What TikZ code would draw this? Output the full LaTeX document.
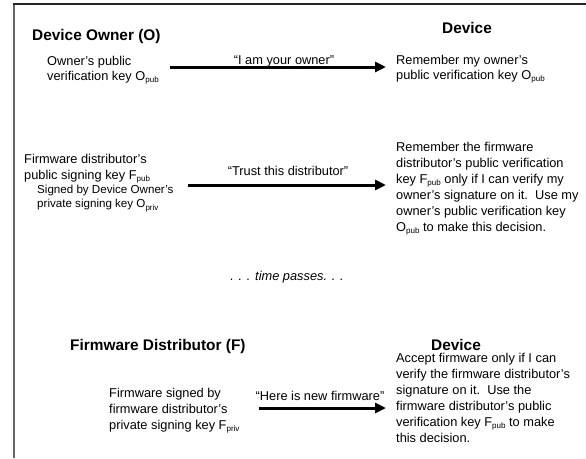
\documentclass[tikz,border=0pt]{standalone}
\usepackage{fontspec}
\setmainfont{Liberation Sans}
\usetikzlibrary{arrows.meta,positioning}

\newcommand\ksub[1]{\raisebox{-2.5pt}{\fontsize{8}{8}\selectfont #1}}

\begin{document}
\begin{tikzpicture}[x=1pt,y=-1pt,
    head/.style={font=\fontsize{15.4}{18}\selectfont\bfseries, inner sep=0},
    body/.style={font=\fontsize{12.8}{16}\selectfont, align=left, inner sep=0, anchor=north west},
    tight/.style={body, font=\fontsize{12.8}{15}\selectfont},
    small/.style={body, font=\fontsize{11.6}{14}\selectfont},
    msg/.style={font=\fontsize{12.8}{16}\selectfont, inner sep=0, anchor=base},
    link/.style={line width=3pt, -{Triangle[length=11pt,width=10pt]}}]
  \useasboundingbox (0,0) rectangle (586,458);
  % frame
  \draw[black!60, line width=2pt] (14,458) -- (14,4);
  \draw[black!85, line width=1.5pt] (13,4) -- (586,4);

  % owner tells the device who owns it
  \node[head, anchor=base west] (owner) at (32,40) {Device Owner (O)};
  \node[head, anchor=base] (dev1) at (467,33) {Device};
  \node[tight] (ownkey) at (47,55.8) {Owner’s public\\verification key O\ksub{pub}};
  \node[tight] (devkey) at (396,54.8) {Remember my owner’s\\public verification key O\ksub{pub}};
  \node[msg] (m1) at (284,64) {“I am your owner”};
  \coordinate (a1s) at (170,67);
  \coordinate (a1e) at (386,67);
  \draw[link] (a1s) -- (a1e);

  % owner vouches for the distributor
  \node[body] (distkey) at (24,153.8) {Firmware distributor’s\\public signing key F\ksub{pub}};
  \node[small, below right=1.4pt and 13pt of distkey.south west] (signed)
    {Signed by Device Owner’s\\private signing key O\ksub{priv}};
  \node[body] (devdist) at (396,141.8) {Remember the firmware\\distributor’s public verification\\key F\ksub{pub} only if I can verify my\\owner’s signature on it.\ \ Use my\\owner’s public verification key\\O\ksub{pub} to make this decision.};
  \node[msg] (m2) at (288,175) {“Trust this distributor”};
  \coordinate (a2s) at (188,185);
  \coordinate (a2e) at (386,185);
  \draw[link] (a2s) -- (a2e);

  \node[msg, font=\fontsize{12.8}{16}\selectfont\itshape] (later) at (287,280) {. . . time passes. . .};

  % distributor ships firmware
  \node[head, anchor=base west] (dist) at (70,350) {Firmware Distributor (F)};
  \node[head, anchor=base] (dev2) at (456,350) {Device};
  \node[body] (fw) at (109,387.8) {Firmware signed by\\firmware distributor’s\\private signing key F\ksub{priv}};
  \node[body] (devfw) at (396,352.8) {Accept firmware only if I can\\verify the firmware distributor’s\\signature on it.\ \ Use the\\firmware distributor’s public\\verification key F\ksub{pub} to make\\this decision.};
  \node[msg] (m3) at (320,400) {“Here is new firmware”};
  \coordinate (a3s) at (259,408);
  \coordinate (a3e) at (386,408);
  \draw[link] (a3s) -- (a3e);
\end{tikzpicture}
\end{document}
